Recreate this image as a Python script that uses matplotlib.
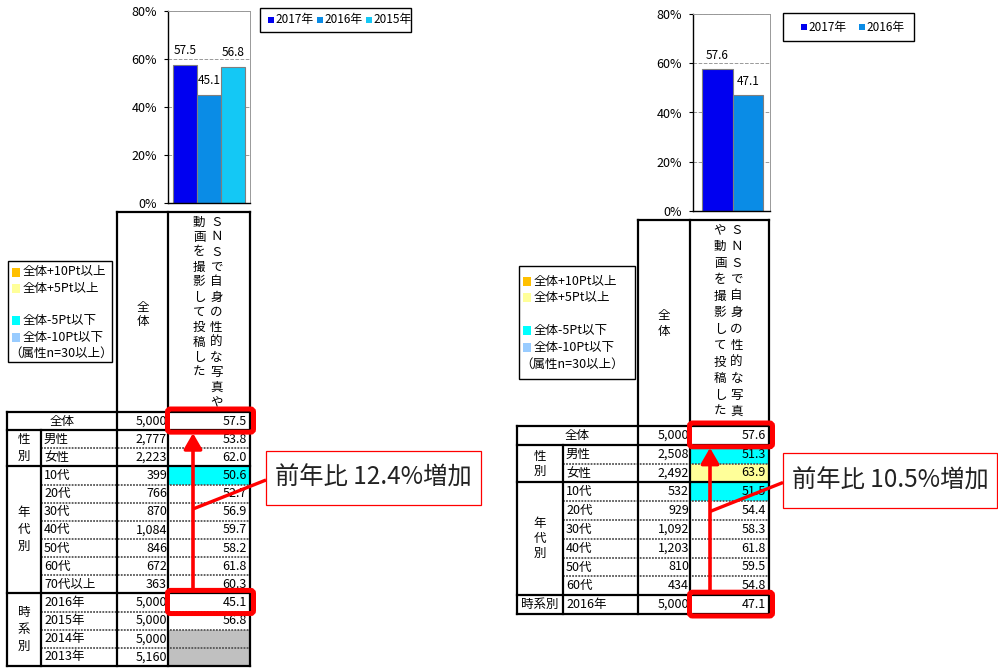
import numpy as np
import matplotlib
matplotlib.use('Agg')
import matplotlib.pyplot as plt
from matplotlib.patches import Rectangle, FancyBboxPatch

plt.rcParams['font.family'] = ['Noto Sans CJK JP', 'DejaVu Sans']

W, H = 998, 668

# ---- data ----
left_years = ['2017年', '2016年', '2015年']
left_bars = [57.5, 45.1, 56.8]
left_bar_colors = ['#0000F0', '#0A8CE6', '#14C8F5']

right_years = ['2017年', '2016年']
right_bars = [57.6, 47.1]
right_bar_colors = ['#0000F0', '#0A8CE6']

left_labels = ['全体', '男性', '女性', '10代', '20代', '30代', '40代', '50代', '60代',
               '70代以上', '2016年', '2015年', '2014年', '2013年']
left_n = [5000, 2777, 2223, 399, 766, 870, 1084, 846, 672, 363, 5000, 5000, 5000, 5160]
left_vals = [57.5, 53.8, 62.0, 50.6, 52.7, 56.9, 59.7, 58.2, 61.8, 60.3, 45.1, 56.8,
             np.nan, np.nan]
left_groups = ['性別', '年代別', '時系別']
left_group_sizes = [2, 7, 4]

right_labels = ['全体', '男性', '女性', '10代', '20代', '30代', '40代', '50代', '60代', '2016年']
right_n = [5000, 2508, 2492, 532, 929, 1092, 1203, 810, 434, 5000]
right_vals = [57.6, 51.3, 63.9, 51.5, 54.4, 58.3, 61.8, 59.5, 54.8, 47.1]
right_groups = ['性別', '年代別', '時系別']
right_group_sizes = [2, 6, 1]

question = 'ＳＮＳで自身の性的な写真や動画を撮影して投稿した'
key_labels = ['全体+10Pt以上', '全体+5Pt以上', '', '全体-5Pt以下', '全体-10Pt以下', '（属性n=30以上）']
key_colors = ['#FFC000', '#FFFF99', None, '#00FFFF', '#99CCFF', None]
left_note = '前年比 12.4%増加'
right_note = '前年比 10.5%増加'

FS = 9

fig = plt.figure(figsize=(W / 100, H / 100), dpi=100)


def cell_color(v, base, n, trend):
    if np.isnan(v):
        return '#C0C0C0'
    if trend or n < 30:
        return None
    d = v - base
    if d >= 10:
        return '#FFC000'
    if d >= 5:
        return '#FFFF99'
    if d <= -10:
        return '#99CCFF'
    if d <= -5:
        return '#00FFFF'
    return None


def bar_panel(box, pad_l, pad_r, vals, colors):
    x0, y0, x1, y1 = box
    bx = fig.add_axes([x0 / W, 1 - y1 / H, (x1 - x0) / W, (y1 - y0) / H])
    n = len(vals)
    unit = (x1 - x0 - pad_l - pad_r) / n
    xs = np.arange(n)
    bx.bar(xs, vals, width=1.0, color=colors, edgecolor='#7F7F7F', linewidth=0.8, zorder=2)
    off = 14 / (y1 - y0) * 80
    for x, v in zip(xs, vals):
        bx.text(x, v + off, f'{v:.1f}', ha='center', va='center', fontsize=8.5, zorder=3)
    bx.set_xlim(-0.5 - pad_l / unit, n - 0.5 + pad_r / unit)
    bx.set_ylim(0, 80)
    bx.set_yticks(range(0, 81, 20))
    bx.set_yticklabels([f'{t}%' for t in range(0, 81, 20)])
    bx.set_xticks([])
    bx.tick_params(axis='y', length=3, width=0.8, pad=5, labelsize=FS)
    bx.yaxis.grid(True, ls='--', color='#999999', lw=0.7)
    bx.set_axisbelow(True)
    for s in ['left', 'bottom']:
        bx.spines[s].set_color('black')
        bx.spines[s].set_linewidth(1.0)
    for s in ['top', 'right']:
        bx.spines[s].set_color('#999999')
        bx.spines[s].set_linewidth(0.7)
    return bx


bar_panel((168, 11, 250, 203), 5, 5, left_bars, left_bar_colors)
bar_panel((693, 14, 770, 211), 9, 7, right_bars, right_bar_colors)

ax = fig.add_axes([0, 0, 1, 1])
ax.set_xlim(0, W)
ax.set_ylim(H, 0)
ax.axis('off')


def bar_legend(box, x_first, step, years, colors):
    x0, y0, x1, y1 = box
    ax.add_patch(Rectangle((x0, y0), x1 - x0, y1 - y0, fill=False, edgecolor='black', lw=1.0))
    yc = (y0 + y1) / 2
    for i, (yr, c) in enumerate(zip(years, colors)):
        xi = x_first + i * step
        ax.add_patch(Rectangle((xi, yc - 3), 6, 6, facecolor=c, edgecolor='none'))
        ax.text(xi + 7, yc, yr, ha='left', va='center', fontsize=8.5)


bar_legend((260, 8, 411, 32), 268, 49, left_years, left_bar_colors)
bar_legend((783, 13, 914, 41), 801, 58, right_years, right_bar_colors)


def key_box(box, y_first, step):
    x0, y0, x1, y1 = box
    ax.add_patch(Rectangle((x0, y0), x1 - x0, y1 - y0, fill=False, edgecolor='black', lw=1.0))
    for i, (lab, c) in enumerate(zip(key_labels, key_colors)):
        yy = y_first + i * step
        if c is not None:
            ax.add_patch(Rectangle((x0 + 4, yy - 4.5), 8, 9, facecolor=c, edgecolor='none'))
            ax.text(x0 + 15, yy, lab, ha='left', va='center', fontsize=FS)
        elif lab:
            ax.text(x0 + 1, yy, lab, ha='left', va='center', fontsize=FS)


key_box((8, 261, 112, 362), 272, 16.3)
key_box((519, 266, 635, 379), 281, 16.6)


def draw_table(labels, ns, vals, groups, sizes, cols, top, rh, hdr_top,
               q_split, q_y0, q_step, zen_y, gstep):
    x0, x1, x2, x3, x4 = cols
    nrows = len(labels)
    bottom = top + nrows * rh
    base = vals[0]
    trend_start = 1 + sum(sizes[:-1])
    lw = 1.6
    for i, (lab, n, v) in enumerate(zip(labels, ns, vals)):
        yt = top + i * rh
        yc = yt + rh / 2
        fc = cell_color(v, base, n, i >= trend_start)
        if fc is not None:
            ax.add_patch(Rectangle((x3, yt), x4 - x3, rh, facecolor=fc, edgecolor='none', zorder=1))
        if i == 0:
            ax.text((x0 + x2) / 2, yc, lab, ha='center', va='center', fontsize=FS)
        else:
            ax.text(x1 + 3, yc, lab, ha='left', va='center', fontsize=FS)
        ax.text(x3 - 1, yc, f'{n:,}', ha='right', va='center', fontsize=FS)
        if not np.isnan(v):
            ax.text(x4 - 3, yc, f'{v:.1f}', ha='right', va='center', fontsize=FS, zorder=5)
    r = 1
    for g, s in zip(groups, sizes):
        ys = top + r * rh
        ye = ys + s * rh
        gx = (x0 + x1) / 2
        if s == 1:
            ax.text(gx, (ys + ye) / 2, g, ha='center', va='center', fontsize=FS)
        else:
            m = len(g)
            for k, ch in enumerate(g):
                ax.text(gx, (ys + ye) / 2 + (k - (m - 1) / 2) * gstep, ch,
                        ha='center', va='center', fontsize=FS)
        for k in range(1, s):
            yy = ys + k * rh
            ax.plot([x1, x4], [yy, yy], color='#555555', lw=1.3, ls=(0, (1, 0.7)), zorder=3)
        ax.plot([x0, x4], [ye, ye], color='black', lw=lw, zorder=4)
        r += s
    ax.plot([x0, x4], [top, top], color='black', lw=lw, zorder=4)
    ax.plot([x0, x4], [top + rh, top + rh], color='black', lw=lw, zorder=4)
    ax.plot([x0, x0], [top, bottom], color='black', lw=lw, zorder=4)
    ax.plot([x1, x1], [top + rh, bottom], color='black', lw=lw, zorder=4)
    for xx in (x2, x3, x4):
        ax.plot([xx, xx], [hdr_top, bottom], color='black', lw=lw, zorder=4)
    ax.plot([x2, x4], [hdr_top, hdr_top], color='black', lw=lw, zorder=4)
    # header texts
    zx = (x2 + x3) / 2
    ax.text(zx, zen_y, '全', ha='center', va='center', fontsize=FS)
    ax.text(zx, zen_y + 15, '体', ha='center', va='center', fontsize=FS)
    col_r = question[:q_split]
    col_l = question[q_split:]
    xr = x3 + (x4 - x3) * 0.59
    xl = x3 + (x4 - x3) * 0.38
    for k, ch in enumerate(col_r):
        ax.text(xr, q_y0 + k * q_step, ch, ha='center', va='center', fontsize=FS)
    for k, ch in enumerate(col_l):
        ax.text(xl, q_y0 + k * q_step, ch, ha='center', va='center', fontsize=FS)
    return top, rh, x3, x4


def highlight(top, rh, x3, x4, i_top, i_bot, arrow_x, note, note_box):
    for i in (i_top, i_bot):
        yt = top + i * rh
        ax.add_patch(FancyBboxPatch((x3 - 0.5, yt - 3), x4 - x3 + 4, rh + 5,
                                    boxstyle='round,pad=0,rounding_size=3',
                                    fill=False, edgecolor='#FF0000', lw=3.6, zorder=6))
    y_from = top + i_bot * rh - 3
    y_to = top + (i_top + 1) * rh + 3
    ax.annotate('', xy=(arrow_x, y_to), xytext=(arrow_x, y_from),
                arrowprops=dict(arrowstyle='-|>,head_length=0.95,head_width=0.55',
                                mutation_scale=10, color='#FF0000', lw=2.6,
                                shrinkA=0, shrinkB=0), zorder=6)
    bx0, by0, bx1, by1 = note_box
    ymid = (by0 + by1) / 2
    ax.plot([bx0, arrow_x], [ymid + 2, ymid + 31], color='#FF0000', lw=2.4, zorder=6,
            solid_capstyle='butt')
    ax.add_patch(Rectangle((bx0, by0), bx1 - bx0, by1 - by0, facecolor='white',
                           edgecolor='#FF0000', lw=0.9, zorder=7))
    ax.text((bx0 + bx1) / 2, ymid, note, ha='center', va='center', fontsize=17.5, zorder=8,
            color='#222222')


lt = draw_table(left_labels, left_n, left_vals, left_groups, left_group_sizes,
                (7, 41, 117, 168, 250), 412, 18.14, 212, 13, 222, 15, 307, 17)
highlight(*lt, 0, 10, 193, left_note, (266, 451, 481, 505))

rt = draw_table(right_labels, right_n, right_vals, right_groups, right_group_sizes,
                (517, 563, 638, 690, 769), 426, 18.8, 220, 12, 230, 16.5, 316, 15)
highlight(*rt, 0, 9, 710, right_note, (783, 453, 997, 508))

fig.savefig('out.png', dpi=100)
